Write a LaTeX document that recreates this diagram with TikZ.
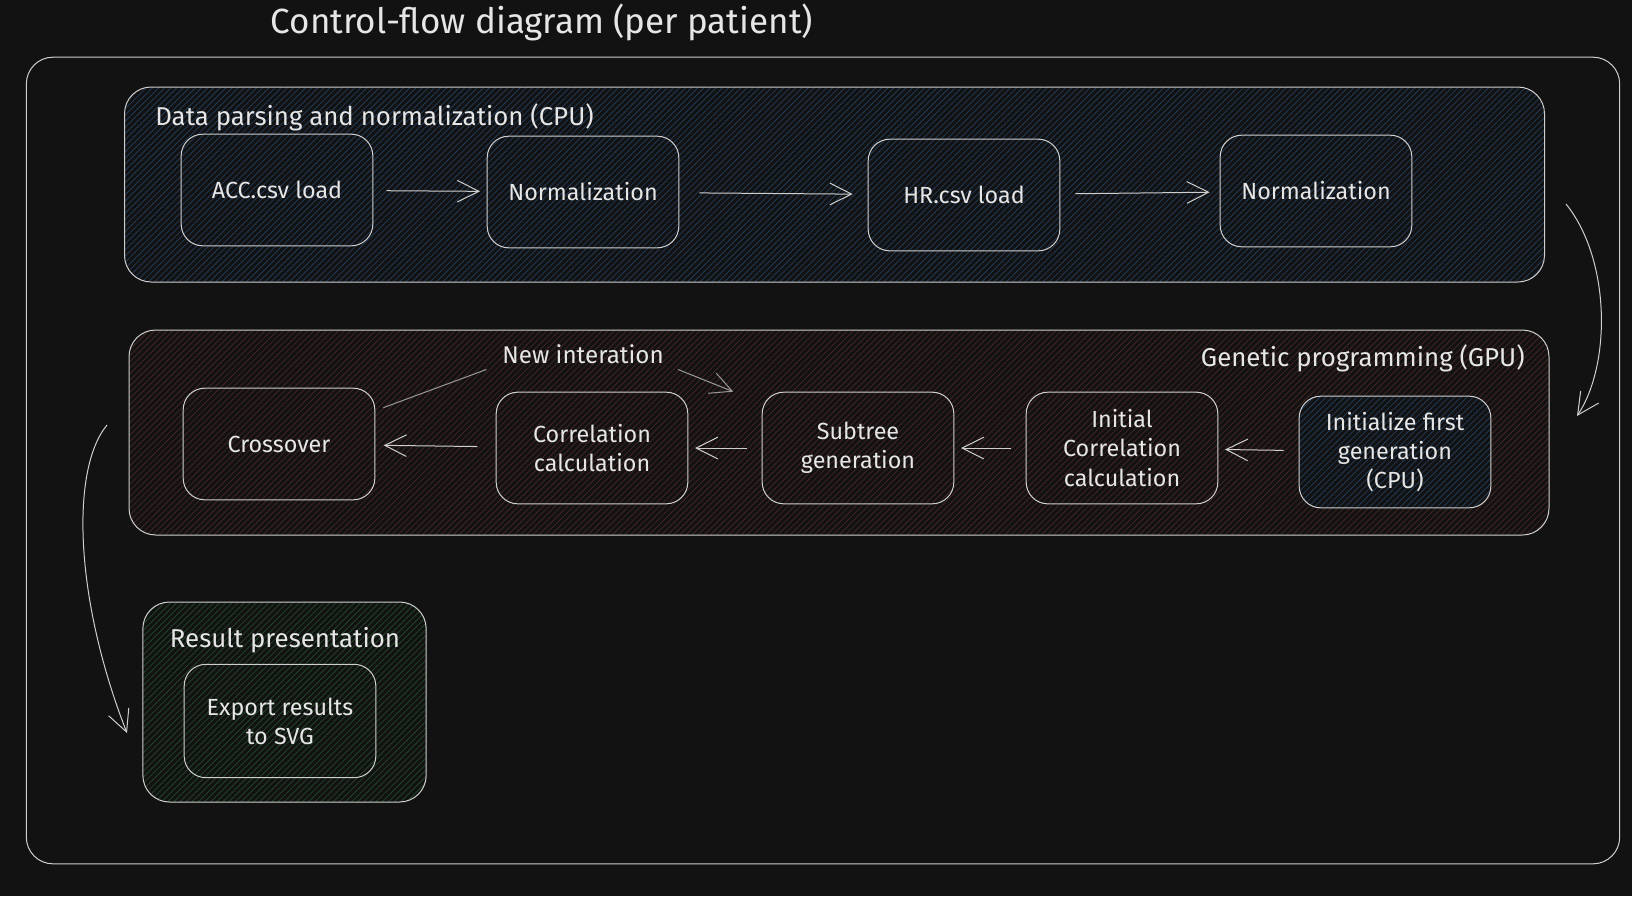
\documentclass[tikz,border=0pt]{standalone}
\usepackage{fontspec}
\setmainfont{Fira Sans}
\usepackage{tikz}
\usetikzlibrary{arrows.meta,patterns.meta}

\definecolor{bgdark}{HTML}{121212}
\definecolor{inkline}{HTML}{CFCFCF}
\definecolor{inktext}{HTML}{E6E6E6}
\definecolor{hatchblue}{HTML}{223A58}
\definecolor{hatchred}{HTML}{442424}
\definecolor{hatchgreen}{HTML}{214424}

\begin{document}
\begin{tikzpicture}[x=0.6pt,y=-0.6pt,
    every node/.style={text=inktext},
    group/.style={draw=inkline,line width=0.6pt,rounded corners=16pt,
        preaction={fill=bgdark},inner sep=0pt},
    hatched/.style={preaction={pattern={Lines[angle=45,distance=2.6pt,line width=0.5pt]},
        pattern color=#1}},
    box/.style={draw=inkline,line width=0.6pt,rounded corners=13pt,
        minimum width=115pt,minimum height=67pt,align=center,font=\fontsize{14}{17.5}\selectfont},
    grouplabel/.style={font=\fontsize{15.5}{18}\selectfont,inner sep=0pt},
    flow/.style={draw=inkline,line width=0.6pt,-{Straight Barb[length=13pt,width=13pt]}},
    ]
    \fill[bgdark] (0,0) rectangle (1632,896);
    \useasboundingbox (0,0) rectangle (1632,896);

    \node[font=\fontsize{21}{24}\selectfont] (title) at (542,22) {Control-flow diagram (per patient)};
    \node[group,minimum width=956pt,minimum height=484pt] (frame) at (823,460.5) {};

    \node[group,hatched=hatchblue,minimum width=852pt,minimum height=117pt] (grpdata) at (834.5,184.5) {};
    \node[grouplabel,anchor=west] (lbldata) at (155,117) {Data parsing and normalization (CPU)};
    \node[group,hatched=hatchred,minimum width=852pt,minimum height=123pt] (grpgp) at (839,432.5) {};
    \node[grouplabel,anchor=east] (lblgp) at (1525,358) {Genetic programming (GPU)};
    \node[group,hatched=hatchgreen,minimum width=170pt,minimum height=120pt] (grpres) at (284.5,702) {};
    \node[grouplabel] (lblres) at (285,640) {Result presentation};

    \node[box] (acc) at (277,190) {ACC.csv load};
    \node[box] (normacc) at (583,192) {Normalization};
    \node[box] (hr) at (964,195) {HR.csv load};
    \node[box] (normhr) at (1316,191) {Normalization};

    \node[box,preaction={fill=bgdark},hatched=hatchblue] (init) at (1395,452) {Initialize first\\generation\\(CPU)};
    \node[box] (initcorr) at (1122,448) {Initial\\Correlation\\calculation};
    \node[box] (subtree) at (858,448) {Subtree\\generation};
    \node[box] (corr) at (592,448) {Correlation\\calculation};
    \node[box] (cross) at (279,444) {Crossover};
    \node[font=\fontsize{14.5}{17}\selectfont] (newit) at (583,354) {New interation};

    \node[box,minimum height=68pt] (export) at (280,721) {Export results\\to SVG};

    \draw[flow,shorten <=8pt,shorten >=4pt] (acc) -- (normacc);
    \draw[flow,shorten <=12pt,shorten >=9pt] (normacc) -- (hr);
    \draw[flow,shorten <=9pt,shorten >=6pt] (hr) -- (normhr);

    \draw[flow,shorten <=9pt,shorten >=4pt] (init) -- (initcorr);
    \draw[flow,shorten <=9pt,shorten >=4pt] (initcorr) -- (subtree);
    \draw[flow,shorten <=9pt,shorten >=4pt] (subtree) -- (corr);
    \draw[flow,shorten <=11pt,shorten >=5pt] (corr) -- (cross);

    \draw[flow,draw=gray!80] ([shift={(8,20)}]cross.north east) -- ([xshift=-6]newit.south west)
        ([xshift=5]newit.south east) -- ([xshift=-17]subtree.north west);

    \coordinate (dropa) at (1566,204);
    \coordinate (dropb) at (1577,416);
    \draw[flow] (dropa) .. controls (1611,260) and (1611,365) .. (dropb);
    \coordinate (dropc) at (107,425);
    \coordinate (dropd) at (127,733);
    \draw[flow] (dropc) .. controls (70,470) and (75,600) .. (dropd);
\end{tikzpicture}
\end{document}
